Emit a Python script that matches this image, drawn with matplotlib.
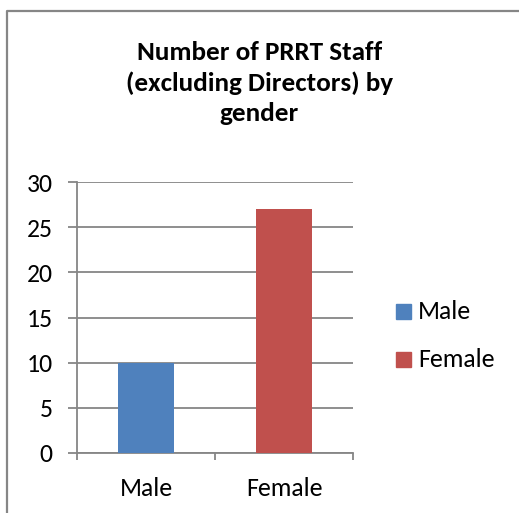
import matplotlib.pyplot as plt
from matplotlib.patches import Rectangle
from matplotlib.lines import Line2D

categories = ["Male", "Female"]
staff = [10, 27]
colors = ["#4F81BD", "#C0504D"]
yticks = [0, 5, 10, 15, 20, 25, 30]

plt.rcParams["font.family"] = ["Carlito", "DejaVu Sans"]
grid_col = "#868686"
W, H = 519, 513

fig = plt.figure(figsize=(5.19, 5.13), dpi=100)
ax = fig.add_axes([77 / W, 1 - 453 / H, 276 / W, 271 / H])

x = list(range(len(categories)))
ax.bar(x, staff, width=0.405, color=colors, zorder=3)

ax.set_xlim(-0.5, 1.5)
ax.set_ylim(0, 30)
ax.set_yticks(yticks)
ax.set_yticklabels([str(v) for v in yticks], fontsize=18.5)
ax.yaxis.grid(True, color=grid_col, linewidth=1.3, zorder=0)
ax.tick_params(axis="y", length=6.5, width=1.3, color=grid_col, pad=11)

ax.set_xticks(x)
ax.set_xticklabels(categories, fontsize=18.5)
ax.tick_params(axis="x", length=0, pad=17)
ax.set_xticks([-0.5, 0.5, 1.5], minor=True)
ax.tick_params(axis="x", which="minor", length=5, width=1.3, color=grid_col)

for s in ["top", "right"]:
    ax.spines[s].set_visible(False)
for s in ["left", "bottom"]:
    ax.spines[s].set_color(grid_col)
    ax.spines[s].set_linewidth(1.3)

fig.text(0.5, 1 - 41 / H, "Number of PRRT Staff\n(excluding Directors) by\ngender",
         ha="center", va="top", fontsize=19.5, fontweight="bold", linespacing=1.38,
         multialignment="center")

for lab, col, yy in zip(categories, colors, [311.5, 359.5]):
    fig.patches.append(Rectangle((396 / W, 1 - (yy + 7.5) / H), 15 / W, 15 / H,
                                 transform=fig.transFigure, color=col))
    fig.text(418 / W, 1 - yy / H, lab, ha="left", va="center", fontsize=18.5)

# chart area border: only the left and top edges fall inside the picture
fig.add_artist(Line2D([7 / W, 7 / W, 1], [0, 1 - 10.5 / H, 1 - 10.5 / H],
                      transform=fig.transFigure, color=grid_col, linewidth=1.6))

fig.savefig("out.png", dpi=100)
